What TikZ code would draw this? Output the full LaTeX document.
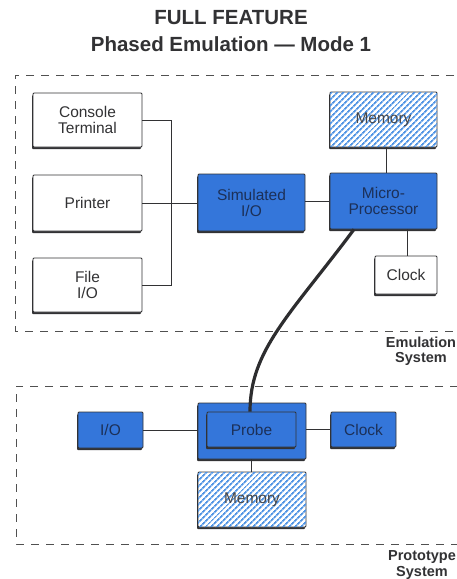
\documentclass[tikz,border=0pt]{standalone}
\usepackage{fontspec}
\setmainfont{Liberation Sans}
\usetikzlibrary{shadows,patterns,patterns.meta}
\definecolor{ink}{RGB}{50,50,52}
\definecolor{chip}{RGB}{52,118,218}
\definecolor{chiptext}{RGB}{28,48,88}
\definecolor{hatch}{RGB}{80,148,228}
\definecolor{dashgray}{RGB}{80,80,80}
\tikzset{
  unit/.style={draw=ink, line width=0.8pt, rounded corners=1pt, inner sep=0pt,
    align=center, font=\fontsize{15.5}{16}\selectfont, text=ink,
    drop shadow={shadow xshift=-1pt, shadow yshift=-2pt, fill=ink, opacity=1}},
  plain/.style={unit, fill=white},
  bluebox/.style={unit, fill=chip, text=chiptext},
  hatched/.style={unit, fill=white, text=ink!90,
    postaction={pattern={Lines[angle=45,distance=4pt,line width=1.8pt]}, pattern color=hatch}},
  wire/.style={draw=ink, line width=0.9pt},
  cable/.style={draw=ink!90!black, line width=3.2pt},
  frame/.style={draw=dashgray, line width=0.9pt, dash pattern=on 8pt off 7pt},
  heading/.style={font=\bfseries\fontsize{20.5}{27}\selectfont, text=ink, align=center},
  syslabel/.style={font=\bfseries\fontsize{14.5}{15.5}\selectfont, text=ink, align=center}
}
\begin{document}
\begin{tikzpicture}[x=1pt,y=-1pt]
\useasboundingbox (0,0) rectangle (456,579);

% title
\node[heading] (title) at (231,31) {FULL FEATURE\\Phased Emulation --- Mode 1};

% dashed system outlines
\draw[frame] (454,75) -- (15,75) -- (15,331) -- (454,331);
\draw[frame] (458,386) -- (16,386) -- (16,544) -- (458,544);
\node[syslabel] (emu) at (421,351) {Emulation\\System};
\node[syslabel] (proto) at (422,565) {Prototype\\System};

% emulation system
\node[plain, minimum width=109pt, minimum height=54pt] (con) at (87.5,120) {Console\\Terminal};
\node[plain, minimum width=109pt, minimum height=56pt] (prn) at (87.5,203) {Printer};
\node[plain, minimum width=109pt, minimum height=54pt] (fio) at (87.5,285) {File\\I/O};
\node[bluebox, minimum width=107pt, minimum height=57pt] (sio) at (251.5,202.5) {Simulated\\I/O};
\node[bluebox, minimum width=107pt, minimum height=56pt] (mp) at (383.5,201) {Micro-\\Processor};
\node[hatched, minimum width=107pt, minimum height=55pt] (mem) at (383.5,119.5) {Memory};
\node[plain, minimum width=62pt, minimum height=38pt] (clk) at (406,275) {Clock};

% prototype system
\node[bluebox, minimum width=65pt, minimum height=36pt] (pio) at (110.5,430) {I/O};
\node[bluebox, minimum width=108pt, minimum height=56pt] (pout) at (252,431) {};
\node[bluebox, minimum width=89pt, minimum height=35pt] (pin) at (251.5,429.5) {Probe};
\node[bluebox, minimum width=65pt, minimum height=35pt] (pclk) at (363.5,429.5) {Clock};
\node[hatched, minimum width=108pt, minimum height=55pt] (pmem) at (252,499.5) {Memory};

% connections
\draw[wire] (con.east) -- ++(29,0) |- (fio.east);
\draw[wire] (prn.east) -- (prn.east -| sio.west);
\draw[wire] (sio.east |- mp.west) -- (mp.west);
\draw[wire] (mem.south -| 386,0) -- (mp.north -| 386,0);
\draw[wire] (clk.north -| 407,0) -- (mp.south -| 407,0);
\draw[wire] (pio.east) -- (pio.east -| pout.west);
\draw[wire] (pout.east |- pclk.west) -- (pclk.west);
\draw[wire] (pout.south -| 251,0) -- (pmem.north -| 251,0);

% emulator cable
\draw[cable] (mp.south -| 354,0) .. controls (290,315) and (250,350) .. (pin.north -| 250,0);
\end{tikzpicture}
\end{document}
